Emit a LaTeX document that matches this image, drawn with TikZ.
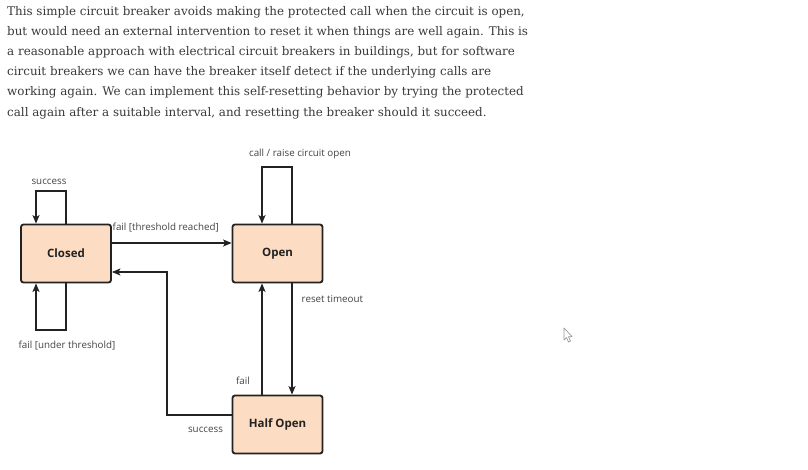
\documentclass[tikz,border=0pt]{standalone}
\usepackage{fontspec}
\setmainfont{DejaVu Serif}
\newfontfamily\labelfont{Open Sans}
\usetikzlibrary{arrows.meta}
\definecolor{boxfill}{HTML}{FCDDC3}
\definecolor{ink}{HTML}{222222}
\definecolor{para}{HTML}{3A3A3A}
\definecolor{lbl}{HTML}{444444}
\begin{document}
\begin{tikzpicture}[x=1pt,y=-1pt,
  state/.style={draw=ink, line width=1.8pt, fill=boxfill, rounded corners=2.5pt,
    minimum width=90pt, minimum height=58pt, inner sep=0pt,
    font=\labelfont\fontsize{11.5}{13}\selectfont\bfseries, text=ink},
  conn/.style={draw=ink, line width=1.5pt, -{Stealth[length=8.5pt,width=7pt,inset=2pt]}},
  lab/.style={font=\labelfont\fontsize{9.8}{11}\selectfont, text=lbl, inner sep=0pt},
  ptext/.style={anchor=base west, inner sep=0pt, font=\fontsize{11.9}{15}\selectfont, text=para}]
\useasboundingbox (0,0) rectangle (808,469);
\fill[white] (0,0) rectangle (808,469);
% paragraph
\node[ptext] (p1) at (7,15) {This simple circuit breaker avoids making the protected call when the circuit is open,};
\node[ptext] (p2) at (7,35.2) {but would need an external intervention to reset it when things are well again. This is};
\node[ptext] (p3) at (7,55.4) {a reasonable approach with electrical circuit breakers in buildings, but for software};
\node[ptext] (p4) at (7,75.6) {circuit breakers we can have the breaker itself detect if the underlying calls are};
\node[ptext] (p5) at (7,95.8) {working again. We can implement this self-resetting behavior by trying the protected};
\node[ptext] (p6) at (7,116) {call again after a suitable interval, and resetting the breaker should it succeed.};
% states
\node[state] (closed) at (66,253.5) {Closed};
\node[state] (open) at (277.5,253.5) {Open};
\node[state] (half) at (277.5,424.5) {Half Open};
% coordinates for loops
\coordinate (c1) at (66,191);
\coordinate (c2) at (36,191);
\coordinate (c3) at (66,330);
\coordinate (c4) at (36,330);
\coordinate (o1) at (292,167);
\coordinate (o2) at (262,167);
\coordinate (s1) at (167,415);
\coordinate (s2) at (167,272);
% closed success loop
\draw[conn] (closed.north) -- (c1) -- (c2) -- (c2 |- closed.north);
% closed fail under threshold loop
\draw[conn] (closed.south) -- (c3) -- (c4) -- (c4 |- closed.south);
% threshold reached
\draw[conn] (closed.east |- 0,243) -- (open.west |- 0,243);
% open self loop
\draw[conn] (o1 |- open.north) -- (o1) -- (o2) -- (o2 |- open.north);
% reset timeout
\draw[conn] (o1 |- open.south) -- (o1 |- half.north);
% fail
\draw[conn] (o2 |- half.north) -- (o2 |- open.south);
% success back to closed
\draw[conn] (half.west |- s1) -- (s1) -- (s2) -- (closed.east |- s2);
% labels
\node[lab] (l1) at (49,182) {success};
\node[lab] (l2) at (67,346) {fail [under threshold]};
\node[lab, anchor=west] (l3) at (112.5,227.5) {fail [threshold reached]};
\node[lab] (l4) at (300,154) {call / raise circuit open};
\node[lab, anchor=west] (l5) at (301.5,298.5) {reset timeout};
\node[lab] (l6) at (243,380.5) {fail};
\node[lab] (l7) at (205.5,430) {success};
% cursor
\draw[line width=0.7pt, draw=gray!80, fill=white, line join=round]
  (564,328) -- (564,340) -- (566.5,337.5) -- (568.5,342) -- (570.5,341) -- (568.5,336.8) -- (572,336.5) -- cycle;
\end{tikzpicture}
\end{document}
